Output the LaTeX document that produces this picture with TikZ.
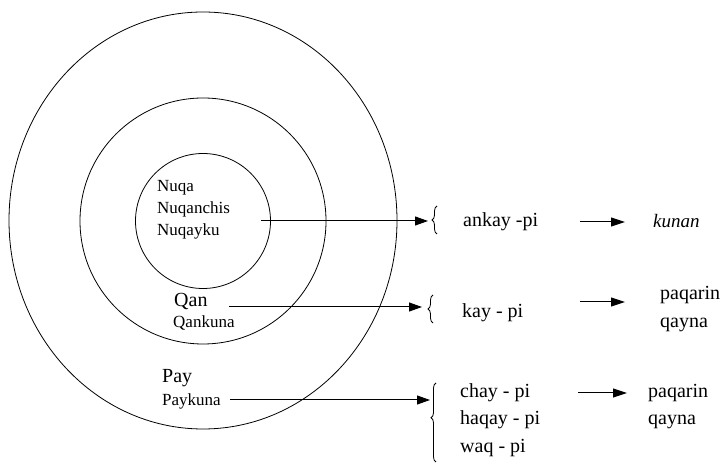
\documentclass[tikz,border=0pt]{standalone}
\usepackage{fontspec}
\setmainfont{Liberation Serif}
\newfontfamily\figserif{Liberation Serif}
\usetikzlibrary{arrows.meta,decorations.pathreplacing}
\begin{document}
\begin{tikzpicture}[x=1pt,y=1pt,
  ring/.style={draw=black,line width=0.8pt},
  lab/.style={anchor=base west,inner sep=0pt,font=\figserif\fontsize{17}{20}\selectfont},
  biglab/.style={anchor=base west,inner sep=0pt,font=\figserif\fontsize{20}{24}\selectfont},
  rlab/.style={anchor=base west,inner sep=0pt,font=\figserif\fontsize{20}{24}\selectfont},
  conn/.style={line width=1pt,-{Triangle[length=13pt,width=9pt]}},
  sarrow/.style={line width=1pt,-{Triangle[length=14pt,width=9pt]}},
  bracebar/.style={line width=0.8pt,decorate,decoration={brace,amplitude=5pt}}]
\useasboundingbox (0,0) rectangle (728,465);
% circles
\draw[ring] (203,244.5) ellipse [x radius=194, y radius=208.5];
\draw[ring] (203,244) circle [radius=123];
\draw[ring] (203,244) circle [radius=67.5];
% left labels
\node[lab] (nuqa) at (157,273) {Nuqa};
\node[lab] (nuqanchis) at (157,251) {Nuqanchis};
\node[lab] (nuqayku) at (157,229) {Nuqayku};
\node[biglab] (qan) at (174,158) {Qan};
\node[lab] (qankuna) at (173,137) {Qankuna};
\node[biglab] (pay) at (162,82) {Pay};
\node[lab] (paykuna) at (162,59) {Paykuna};
% connector start / end points
\coordinate (s1) at (261,244);
\coordinate (e1) at (428,244);
\coordinate (s2) at (229,158);
\coordinate (e2) at (422,158);
\coordinate (s3) at (230,65);
\coordinate (e3) at (430,65);
% braces
\coordinate (b1a) at (437,231); \coordinate (b1b) at (437,259);
\coordinate (b2a) at (433,142); \coordinate (b2b) at (433,170);
\coordinate (b3a) at (436,3);   \coordinate (b3b) at (436,82);
\draw[bracebar] (b1a) -- (b1b);
\draw[bracebar] (b2a) -- (b2b);
\draw[bracebar,decoration={brace,amplitude=5pt,aspect=0.56}] (b3a) -- (b3b);
% main connectors
\draw[conn] (s1) -- (e1);
\draw[conn] (s2) -- (e2);
\draw[conn] (s3) -- (e3);
% right texts
\node[rlab] (ankay) at (463,238) {ankay -pi};
\node[rlab] (kay) at (462,147) {kay - pi};
\node[rlab] (chay) at (460,67) {chay - pi};
\node[rlab] (haqay) at (460,40) {haqay - pi};
\node[rlab] (waq) at (460,12) {waq - pi};
\node[rlab,font=\figserif\fontsize{19}{22}\selectfont\itshape] (kunan) at (653,237) {kunan};
\node[rlab] (paq2) at (660,165) {paqarin};
\node[rlab] (qay2) at (660,137) {qayna};
\node[rlab] (paq3) at (648,67) {paqarin};
\node[rlab] (qay3) at (648,40) {qayna};
% small arrows
\coordinate (r1a) at (580,243); \coordinate (r1b) at (625,243);
\coordinate (r2a) at (580,163); \coordinate (r2b) at (625,163);
\coordinate (r3a) at (578,72);  \coordinate (r3b) at (627,72);
\draw[sarrow] (r1a) -- (r1b);
\draw[sarrow] (r2a) -- (r2b);
\draw[sarrow] (r3a) -- (r3b);
\end{tikzpicture}
\end{document}
